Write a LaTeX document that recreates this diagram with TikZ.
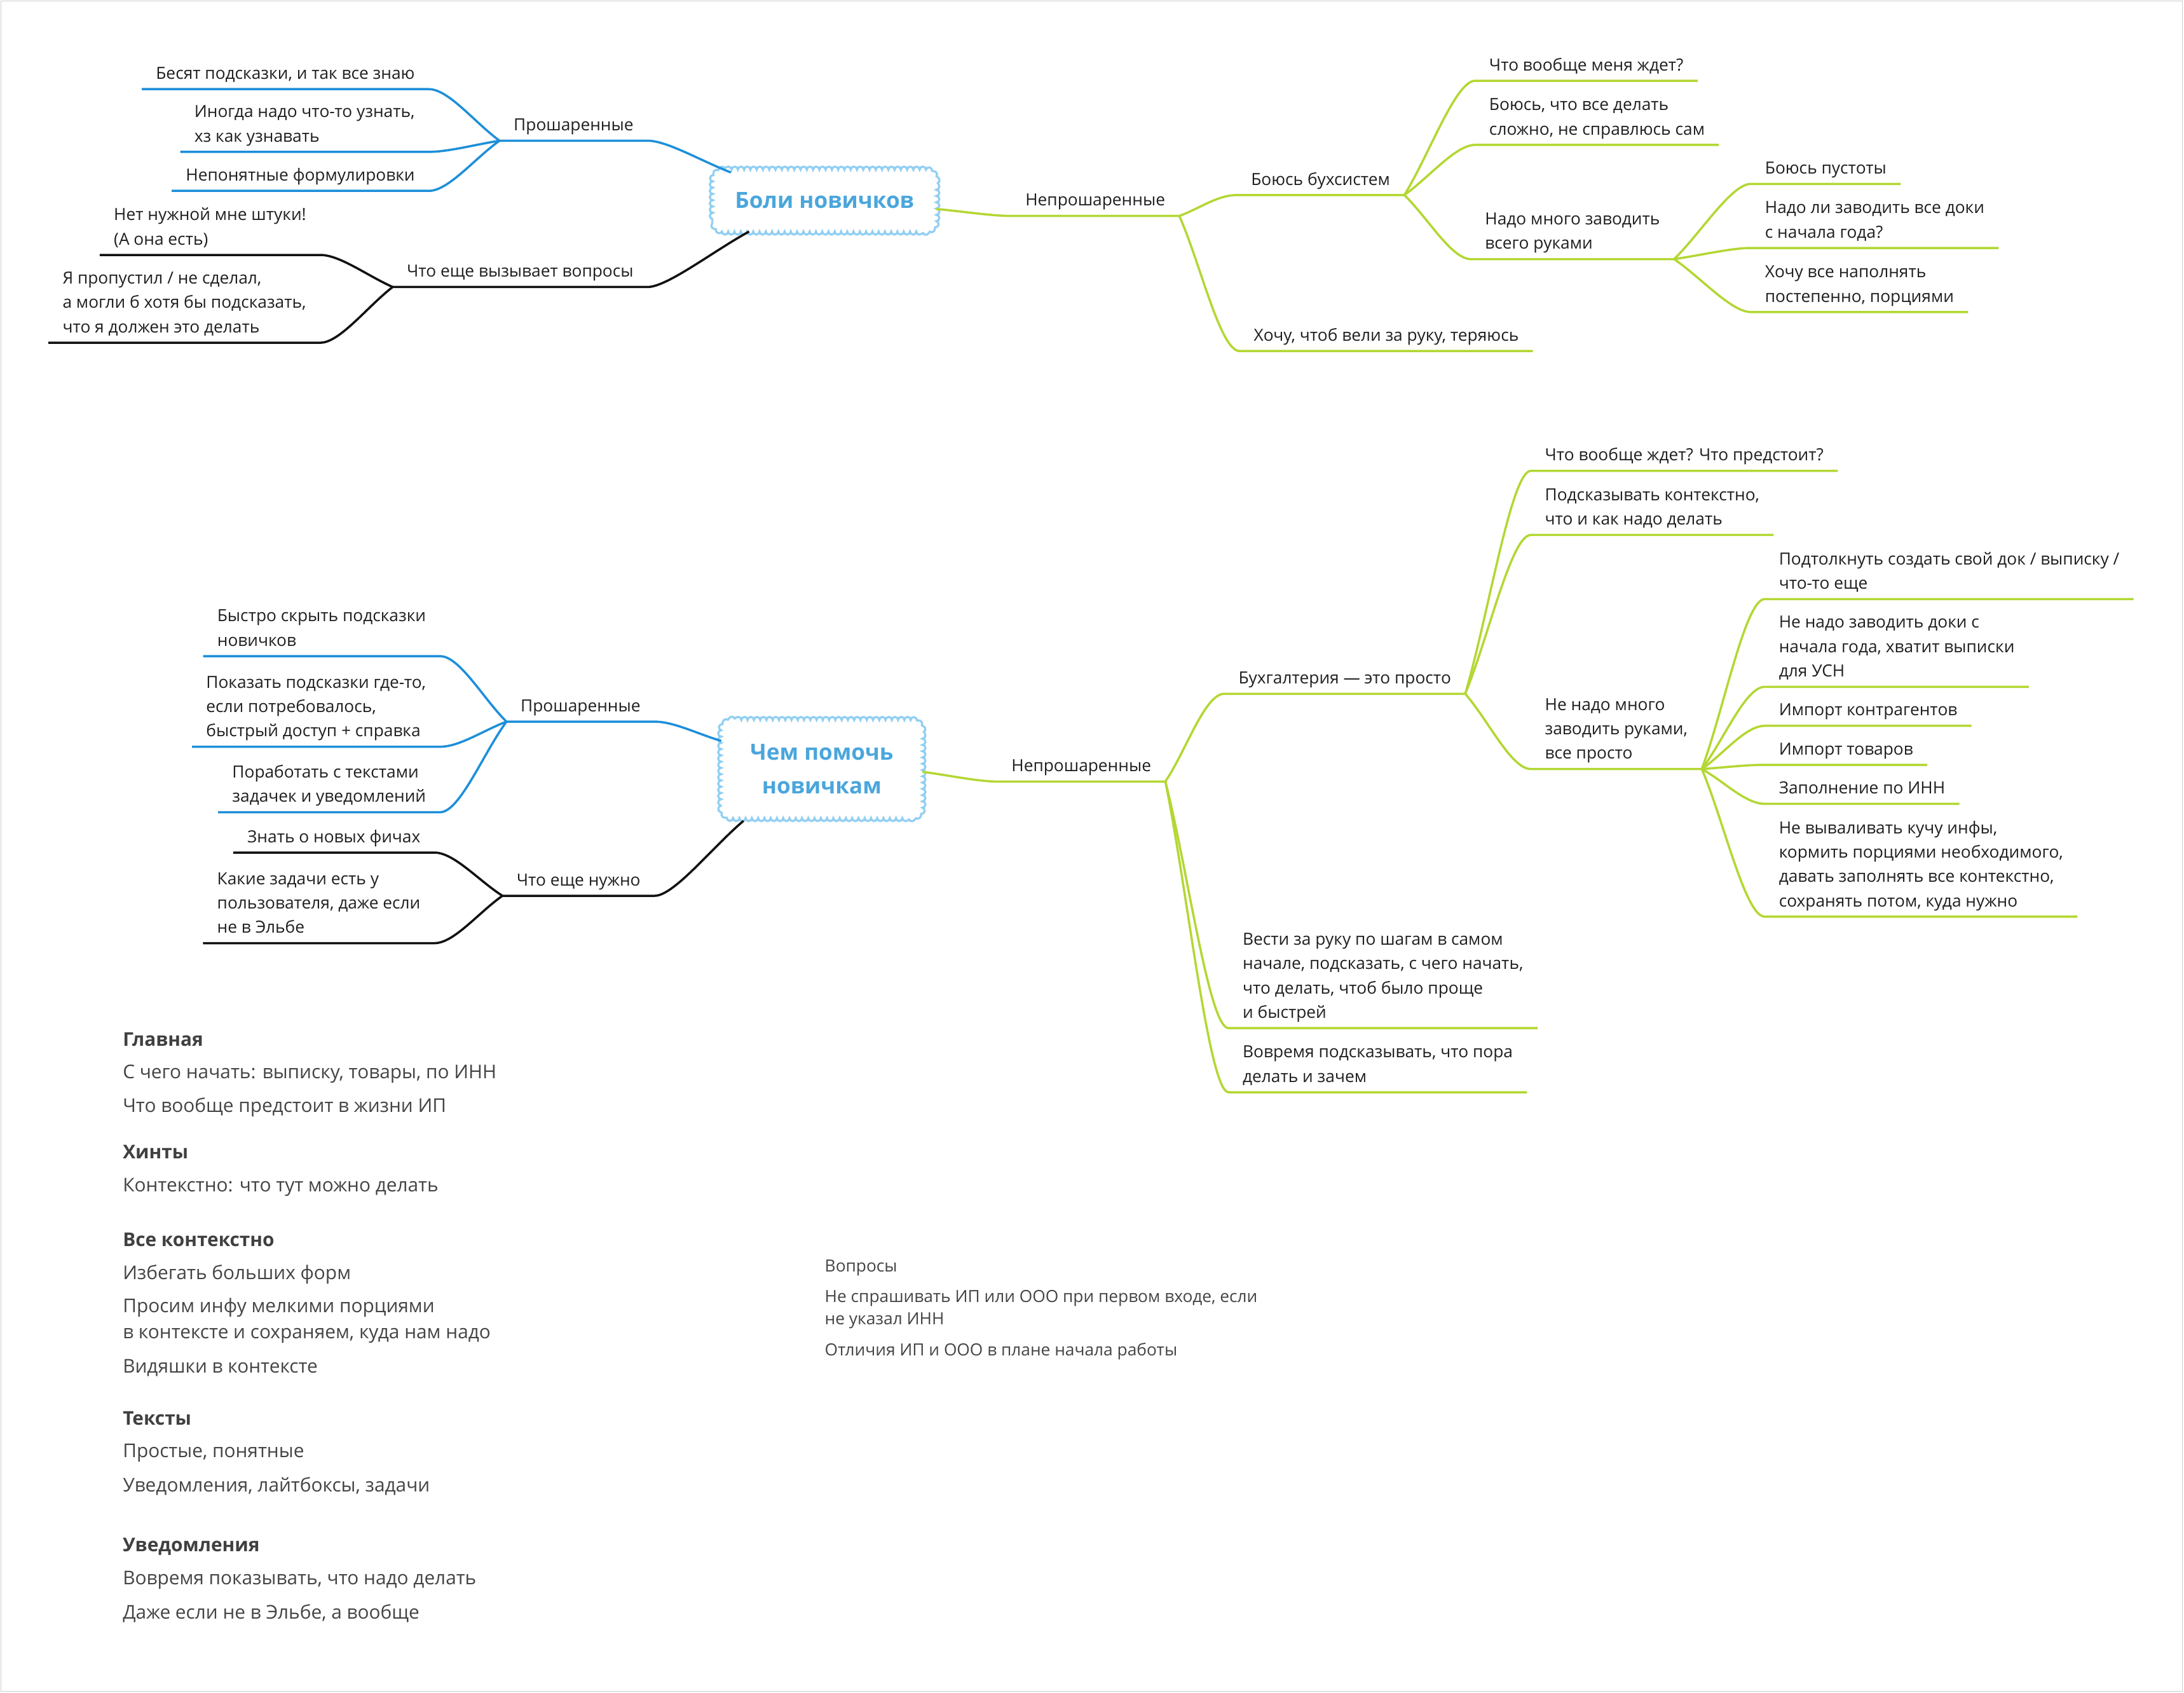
\documentclass[tikz,border=0pt]{standalone}
\usepackage{fontspec}
\setmainfont{Open Sans}
\usetikzlibrary{positioning,calc,decorations.pathmorphing}

\definecolor{mmblue}{HTML}{1E8FD9}
\definecolor{mmgreen}{HTML}{B3D733}
\definecolor{mmblack}{HTML}{111111}
\definecolor{cloudline}{HTML}{92CFF2}
\definecolor{cloudtext}{HTML}{4AA6DC}
\definecolor{notegray}{HTML}{444444}

\newcommand{\mapfont}{\fontsize{12}{17.5}\selectfont}
\newcommand{\rootfont}{\fontsize{16}{24}\selectfont\bfseries}
\newcommand{\notefont}{\fontsize{13.6}{19}\selectfont}
\newcommand{\askfont}{\fontsize{12}{16}\selectfont}

\tikzset{
  topic/.style={font=\mapfont, text=black!88, align=left, inner xsep=10pt,
    inner ysep=4pt, text depth=3pt, anchor=south west},
  ltopic/.style={topic, anchor=south east},
  root/.style={font=\rootfont, text=cloudtext, align=center},
  cloudedge/.style={draw=cloudline, line width=1.5pt,
    decoration={bumps, segment length=9pt, amplitude=2.2pt}},
  bline/.style={draw=mmblue, line width=1.6pt},
  gline/.style={draw=mmgreen, line width=1.6pt},
  kline/.style={draw=mmblack, line width=1.6pt},
  % mind map curves: fan out from the fork, round into the underline
  tor/.style={to path={.. controls ($(\tikztostart)!0.35!(\tikztotarget)$) and ($(\tikztotarget)+(-14pt,0)$) .. (\tikztotarget)}},
  tol/.style={to path={.. controls ($(\tikztostart)!0.35!(\tikztotarget)$) and ($(\tikztotarget)+(14pt,0)$) .. (\tikztotarget)}},
  note/.style={font=\notefont, text=notegray, anchor=west, inner sep=0pt, align=left},
  notehead/.style={note, font=\notefont\bfseries, text=black!75},
  ask/.style={note, font=\askfont},
}

\begin{document}
\begin{tikzpicture}[x=1pt,y=-1pt]
    \useasboundingbox (0,0) rectangle (1568,1215);
    \draw[black!20] (0.5,0.5) rectangle (1567,1214);

    % ---------- Боли новичков ----------
    \node[root, minimum width=160pt, minimum height=44pt] (r1) at (592,144) {Боли новичков};
    \draw[cloudedge] decorate {[rounded corners=9pt] (r1.south west) rectangle (r1.north east)};

    \node[ltopic] (pro1) at (465,101) {Прошаренные};
    \node[ltopic] (b11) at (308,64) {Бесят подсказки, и так все знаю};
    \node[ltopic] (b12) at (308,109) {Иногда надо что-то узнать,\\хз как узнавать};
    \node[ltopic] (b13) at (308,137) {Непонятные формулировки};

    \node[ltopic] (que1) at (465,206) {Что еще вызывает вопросы};
    \node[ltopic] (k11) at (230,183) {Нет нужной мне штуки!\\(А она есть)};
    \node[ltopic] (k12) at (230,246) {Я пропустил / не сделал,\\а могли б хотя бы подсказать,\\что я должен это делать};

    \node[topic] (nov1) at (726,155) {Непрошаренные};
    \node[topic] (g11) at (888,140) {Боюсь бухсистем};
    \node[topic] (g111) at (1059,58) {Что вообще меня ждет?};
    \node[topic] (g112) at (1059,104) {Боюсь, что все делать\\сложно, не справлюсь сам};
    \node[topic] (g113) at (1056,186) {Надо много заводить\\всего руками};
    \node[topic] (g1131) at (1257,132) {Боюсь пустоты};
    \node[topic] (g1132) at (1257,178) {Надо ли заводить все доки\\с начала года?};
    \node[topic] (g1133) at (1257,224) {Хочу все наполнять\\постепенно, порциями};
    \node[topic] (g12) at (890,252) {Хочу, чтоб вели за руку, теряюсь};

    \draw[bline] ([xshift=13pt,yshift=-2pt]r1.north west) to[tol] (pro1.south east) -- (pro1.south west);
    \foreach \c in {b11,b12,b13}
        \draw[bline] (pro1.south west) to[tol] (\c.south east) -- (\c.south west);
    \draw[kline] ([xshift=26pt,yshift=0pt]r1.south west) to[tol] (que1.south east) -- (que1.south west);
    \foreach \c in {k11,k12}
        \draw[kline] (que1.south west) to[tol] (\c.south east) -- (\c.south west);
    \draw[gline] ([yshift=-6pt]r1.east) to[tor] (nov1.south west) -- (nov1.south east);
    \foreach \c in {g11,g12}
        \draw[gline] (nov1.south east) to[tor] (\c.south west) -- (\c.south east);
    \foreach \c in {g111,g112,g113}
        \draw[gline] (g11.south east) to[tor] (\c.south west) -- (\c.south east);
    \foreach \c in {g1131,g1132,g1133}
        \draw[gline] (g113.south east) to[tor] (\c.south west) -- (\c.south east);

    % ---------- Чем помочь новичкам ----------
    \node[root, minimum width=144pt, minimum height=70pt] (r2) at (590,552) {Чем помочь\\новичкам};
    \draw[cloudedge] decorate {[rounded corners=9pt] (r2.south west) rectangle (r2.north east)};

    \node[ltopic] (pro2) at (470,518) {Прошаренные};
    \node[ltopic] (b21) at (316,471) {Быстро скрыть подсказки\\новичков};
    \node[ltopic] (b22) at (316,536) {Показать подсказки где-то,\\если потребовалось,\\быстрый доступ + справка};
    \node[ltopic] (b23) at (316,583) {Поработать с текстами\\задачек и уведомлений};

    \node[ltopic] (que2) at (470,643) {Что еще нужно};
    \node[ltopic] (k21) at (312,612) {Знать о новых фичах};
    \node[ltopic] (k22) at (312,677) {Какие задачи есть у\\пользователя, даже если\\не в Эльбе};

    \node[topic] (nov2) at (716,561) {Непрошаренные};
    \node[topic] (g21) at (879,498) {Бухгалтерия — это просто};
    \node[topic] (g211) at (1099,338) {Что вообще ждет? Что предстоит?};
    \node[topic] (g212) at (1099,384) {Подсказывать контекстно,\\что и как надо делать};
    \node[topic] (g213) at (1099,552) {Не надо много\\заводить руками,\\все просто};
    \node[topic] (g2131) at (1267,430) {Подтолкнуть создать свой док / выписку /\\что-то еще};
    \node[topic] (g2132) at (1267,493) {Не надо заводить доки с\\начала года, хватит выписки\\для УСН};
    \node[topic] (g2133) at (1267,521) {Импорт контрагентов};
    \node[topic] (g2134) at (1267,549) {Импорт товаров};
    \node[topic] (g2135) at (1267,577) {Заполнение по ИНН};
    \node[topic] (g2136) at (1267,658) {Не вываливать кучу инфы,\\кормить порциями необходимого,\\давать заполнять все контекстно,\\сохранять потом, куда нужно};
    \node[topic] (g22) at (882,738) {Вести за руку по шагам в самом\\начале, подсказать, с чего начать,\\что делать, чтоб было проще\\и быстрей};
    \node[topic] (g23) at (882,784) {Вовремя подсказывать, что пора\\делать и зачем};

    \draw[bline] ([yshift=-15pt]r2.north west) to[tol] (pro2.south east) -- (pro2.south west);
    \foreach \c in {b21,b22,b23}
        \draw[bline] (pro2.south west) to[tol] (\c.south east) -- (\c.south west);
    \draw[kline] ([xshift=16pt,yshift=-2pt]r2.south west) to[tol] (que2.south east) -- (que2.south west);
    \foreach \c in {k21,k22}
        \draw[kline] (que2.south west) to[tol] (\c.south east) -- (\c.south west);
    \draw[gline] ([yshift=-2pt]r2.east) to[tor] (nov2.south west) -- (nov2.south east);
    \foreach \c in {g21,g22,g23}
        \draw[gline] (nov2.south east) to[tor] (\c.south west) -- (\c.south east);
    \foreach \c in {g211,g212,g213}
        \draw[gline] (g21.south east) to[tor] (\c.south west) -- (\c.south east);
    \foreach \c in {g2131,g2132,g2133,g2134,g2135,g2136}
        \draw[gline] (g213.south east) to[tor] (\c.south west) -- (\c.south east);

    % ---------- notes ----------
    \foreach \y/\t in {746/Главная, 827/Хинты, 890/Все контекстно, 1018/Тексты, 1110/Уведомления}
        \node[notehead] (head\y) at (88,\y) {\t};
    \foreach \y/\t in {771/{С чего начать: выписку, товары, по ИНН},
                       795/{Что вообще предстоит в жизни ИП},
                       852/{Контекстно: что тут можно делать},
                       915/{Избегать больших форм},
                       948/{Просим инфу мелкими порциями\\в контексте и сохраняем, куда нам надо},
                       982/{Видяшки в контексте},
                       1043/{Простые, понятные},
                       1067/{Уведомления, лайтбоксы, задачи},
                       1134/{Вовремя показывать, что надо делать},
                       1158/{Даже если не в Эльбе, а вообще}}
        \node[note] (note\y) at (88,\y) {\t};

    \node[ask] (ask) at (592,910) {Вопросы};
    \node[ask] (ask1) at (592,940) {Не спрашивать ИП или ООО при первом входе, если\\не указал ИНН};
    \node[ask] (ask2) at (592,970) {Отличия ИП и ООО в плане начала работы};
\end{tikzpicture}
\end{document}
